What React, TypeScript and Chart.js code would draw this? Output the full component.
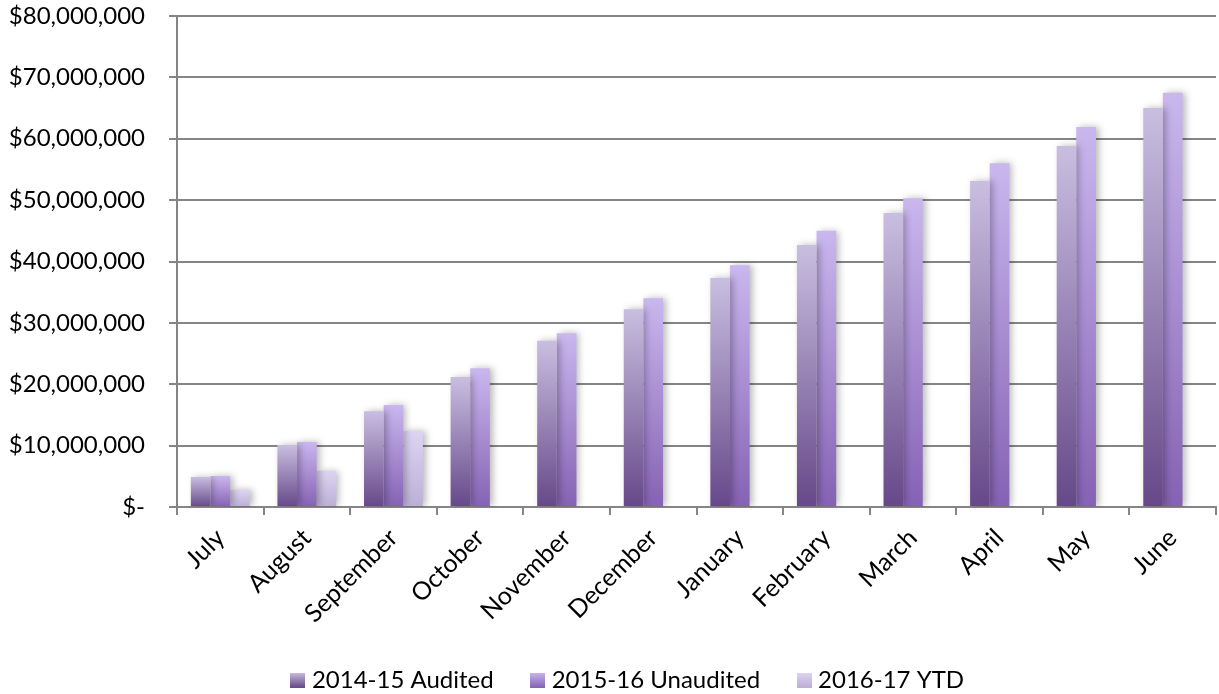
import React, { useEffect, useRef } from "react";
import { Chart, registerables } from "chart.js";

Chart.register(...registerables);

const categories = ["July", "August", "September", "October", "November", "December", "January", "February", "March", "April", "May", "June"];
const audited1415 = [4900000, 10100000, 15600000, 21200000, 27100000, 32200000, 37300000, 42700000, 47900000, 53100000, 58800000, 65000000];
const unaudited1516 = [5050000, 10600000, 16600000, 22600000, 28300000, 34000000, 39400000, 45000000, 50300000, 56000000, 61900000, 67500000];
const ytd1617 = [2800000, 5900000, 12400000, null, null, null, null, null, null, null, null, null];
const seriesNames = ["2014-15 Audited", "2015-16 Unaudited", "2016-17 YTD"];
const yTicks = [0, 10000000, 20000000, 30000000, 40000000, 50000000, 60000000, 70000000, 80000000];

const palettes = [
  { top: "#c9bee0", bottom: "#664889", mid: "#9a86bd" },
  { top: "#cab7ee", bottom: "#8562b4", mid: "#a98ed4" },
  { top: "#ddd4f2", bottom: "#bcafd6", mid: "#cdc2e6" },
];

const FONT = "Lato, 'Open Sans', sans-serif";

function gradientFill(pal: { top: string; bottom: string; mid: string }) {
  return (ctx: any) => {
    const chart = ctx.chart;
    const scales = chart.scales;
    if (!chart.chartArea || ctx.type !== "data" || !scales || !scales.y || ctx.raw == null) return pal.mid;
    const y0 = scales.y.getPixelForValue(0);
    const y1 = scales.y.getPixelForValue(ctx.raw);
    if (!isFinite(y0) || !isFinite(y1) || y0 === y1) return pal.mid;
    const g = chart.ctx.createLinearGradient(0, y1, 0, y0);
    g.addColorStop(0, pal.top);
    g.addColorStop(1, pal.bottom);
    return g;
  };
}

function legendSwatch(pal: { top: string; bottom: string }) {
  const c = document.createElement("canvas");
  c.width = 15;
  c.height = 15;
  const x = c.getContext("2d")!;
  const g = x.createLinearGradient(0, 0, 0, 15);
  g.addColorStop(0, pal.top);
  g.addColorStop(1, pal.bottom);
  x.fillStyle = g;
  x.fillRect(0, 0, 15, 15);
  return c;
}

const shadowPlugin = {
  id: "barShadow",
  beforeDatasetsDraw(chart: any) {
    const c = chart.ctx;
    c.save();
    c.shadowColor = "rgba(0,0,0,0.28)";
    c.shadowBlur = 7;
    c.shadowOffsetX = 3;
    c.shadowOffsetY = 0;
  },
  afterDatasetsDraw(chart: any) {
    chart.ctx.restore();
  },
};

const LEGEND_SHIFT = 22;
const legendShiftPlugin = {
  id: "legendShift",
  afterLayout(chart: any) {
    const lg = chart.legend;
    if (!lg) return;
    lg.left += LEGEND_SHIFT;
    lg.right += LEGEND_SHIFT;
  },
};

function fmt(v: number) {
  if (v === 0) return "$-";
  return "$" + v.toLocaleString("en-US");
}

export default function App() {
  const ref = useRef<HTMLCanvasElement | null>(null);

  useEffect(() => {
    if (!ref.current) return;
    const swatches = palettes.map(legendSwatch);
    const datasets = [audited1415, unaudited1516, ytd1617].map((d, i) => ({
      label: seriesNames[i],
      data: d,
      backgroundColor: gradientFill(palettes[i]),
      borderWidth: 0,
      categoryPercentage: 0.68,
      barPercentage: 1.0,
    }));
    const chart = new Chart(ref.current, {
      type: "bar",
      data: { labels: categories, datasets: datasets as any },
      plugins: [shadowPlugin, legendShiftPlugin],
      options: {
        animation: false,
        responsive: false,
        maintainAspectRatio: false,
        layout: { padding: { top: 16, right: 3, left: 0, bottom: -8 } },
        plugins: {
          tooltip: { enabled: false },
          legend: {
            position: "bottom",
            labels: {
              font: { family: FONT, size: 24 },
              color: "#000",
              boxWidth: 4,
              boxHeight: 15,
              pointStyleWidth: 4,
              padding: 42,
              usePointStyle: true,
              generateLabels: () =>
                seriesNames.map((name, i) => ({
                  text: name,
                  datasetIndex: i,
                  pointStyle: swatches[i],
                  fillStyle: palettes[i].mid,
                  strokeStyle: "transparent",
                  lineWidth: 0,
                  hidden: false,
                  fontColor: "#000",
                })),
            },
          },
        },
        scales: {
          x: {
            afterFit(scale: any) {
              const lh = scale.chart.legend ? scale.chart.legend.height : 0;
              scale.height = scale.chart.height - 507 - lh + 8;
            },
            grid: {
              offset: true,
              drawOnChartArea: false,
              drawTicks: true,
              tickLength: 8,
              color: "#858585",
              lineWidth: 2,
            },
            border: { color: "#858585", width: 2 },
            ticks: {
              minRotation: 45,
              maxRotation: 45,
              padding: 8,
              color: "#000",
              font: { family: FONT, size: 25 },
            },
          },
          y: {
            min: 0,
            max: 80000000,
            afterFit(scale: any) {
              scale.width = 177;
              scale.paddingTop = 0;
              scale.paddingBottom = 0;
            },
            afterBuildTicks(scale: any) {
              scale.ticks = yTicks.map((v) => ({ value: v }));
            },
            grid: {
              color: "#858585",
              lineWidth: 2,
              tickLength: 8,
              drawTicks: true,
            },
            border: { color: "#858585", width: 2 },
            ticks: {
              padding: 24,
              color: "#000",
              font: { family: FONT, size: 24 },
              callback: (v: any) => fmt(Number(v)),
            },
          },
        },
      } as any,
    });
    return () => chart.destroy();
  }, []);

  return (
    <div style={{ position: "fixed", left: 0, top: 0, width: 1219, height: 694, background: "#fff" }}>
      <canvas ref={ref} width={1219} height={694} style={{ width: 1219, height: 694 }} />
    </div>
  );
}
